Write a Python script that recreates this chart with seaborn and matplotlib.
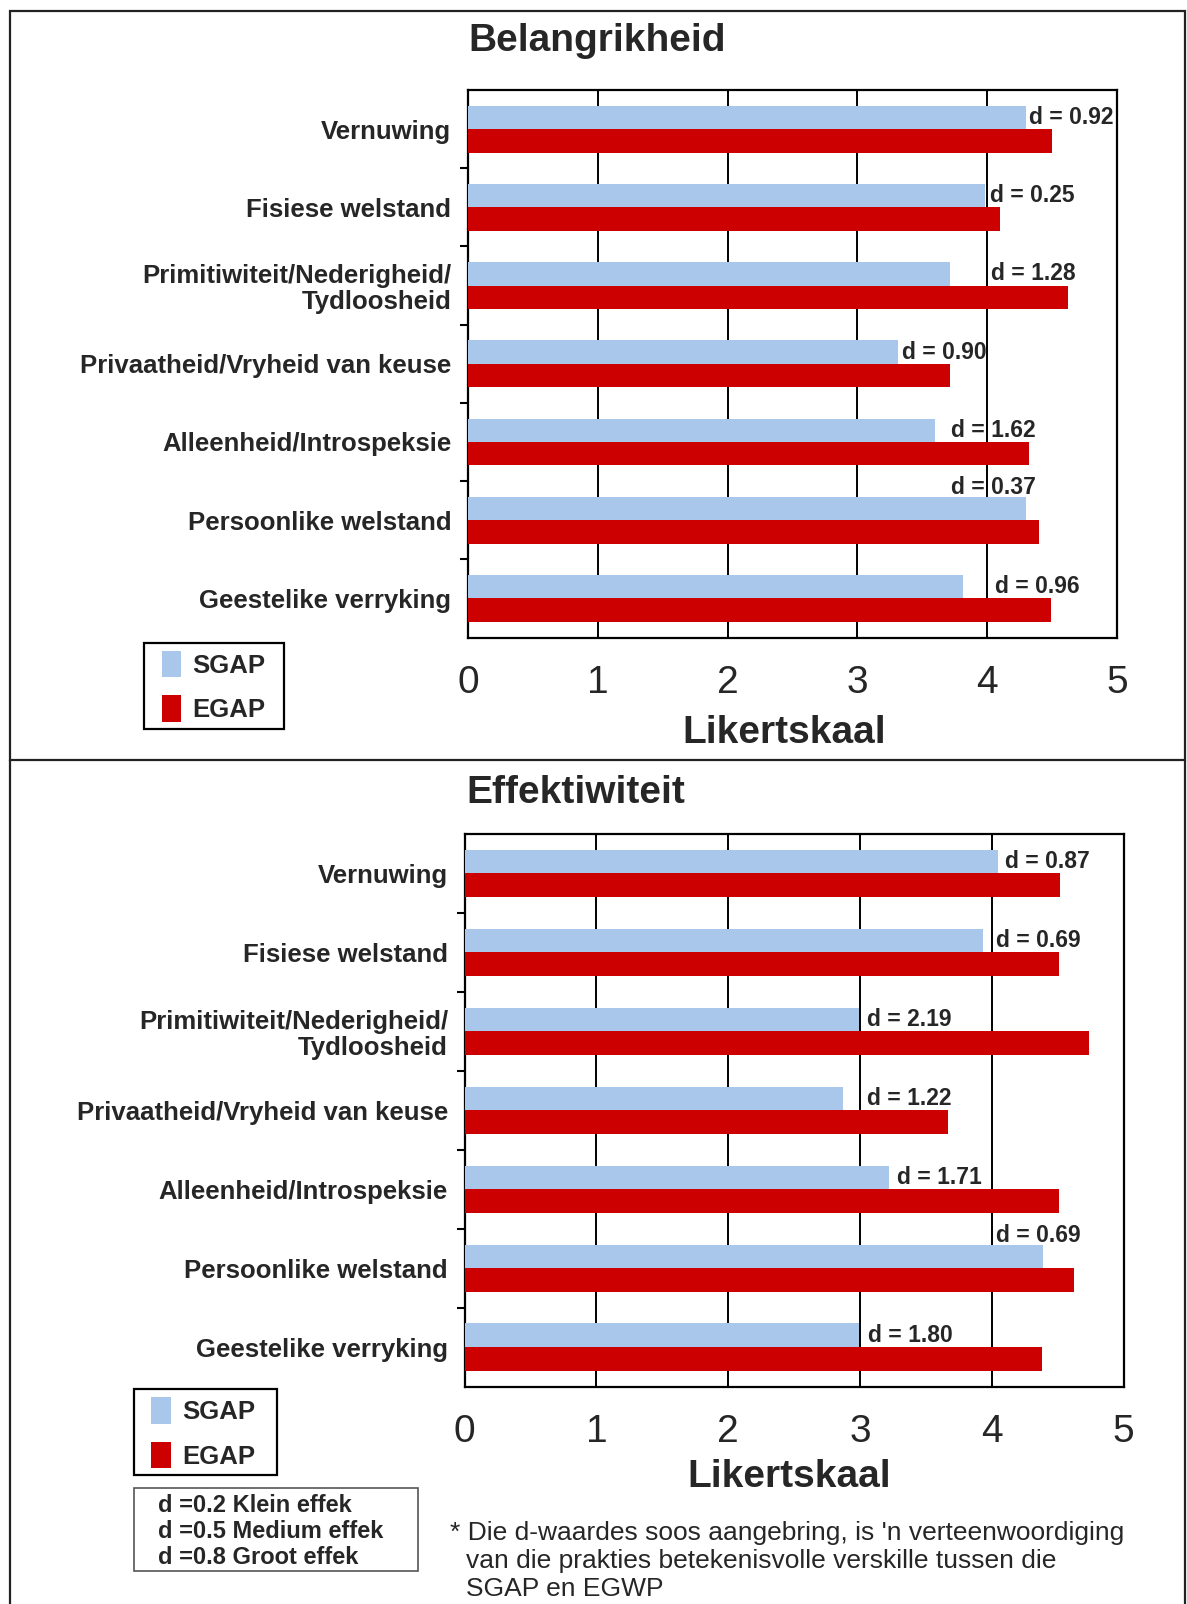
import matplotlib
matplotlib.use("Agg")
import matplotlib.pyplot as plt
import seaborn as sns
import pandas as pd
from matplotlib.patches import Rectangle
from matplotlib.lines import Line2D

# ---------------- data ----------------
categories = ["Vernuwing", "Fisiese welstand",
              "Primitiwiteit/Nederigheid/\nTydloosheid",
              "Privaatheid/Vryheid van keuse", "Alleenheid/Introspeksie",
              "Persoonlike welstand", "Geestelike verryking"]
groups = ["SGAP", "EGAP"]

bel_sgap = [4.30, 3.98, 3.71, 3.31, 3.60, 4.30, 3.81]
bel_egap = [4.50, 4.10, 4.62, 3.71, 4.32, 4.40, 4.49]
bel_d = ["0.92", "0.25", "1.28", "0.90", "1.62", "0.37", "0.96"]

eff_sgap = [4.05, 3.93, 2.99, 2.87, 3.22, 4.39, 2.99]
eff_egap = [4.52, 4.51, 4.74, 3.67, 4.51, 4.62, 4.38]
eff_d = ["0.87", "0.69", "2.19", "1.22", "1.71", "0.69", "1.80"]

x_ticks = [0, 1, 2, 3, 4, 5]
titles = ["Belangrikheid", "Effektiwiteit"]
x_label = "Likertskaal"
effect_notes = ["d =0.2 Klein effek", "d =0.5 Medium effek", "d =0.8 Groot effek"]
footnote = ["* Die d-waardes soos aangebring, is 'n verteenwoordiging",
            "van die prakties betekenisvolle verskille tussen die",
            "SGAP en EGWP"]

# ---------------- layout (label placement) ----------------
bel_lab_x = [4.32, 4.02, 4.03, 3.34, 3.72, 3.72, 4.06]
bel_lab_dy = [-0.15, -0.15, -0.15, -0.15, -0.15, -0.42, -0.15]
eff_lab_x = [4.10, 4.03, 3.05, 3.05, 3.28, 4.03, 3.06]
eff_lab_dy = [-0.15, -0.15, -0.15, -0.15, -0.15, -0.42, -0.15]

BLUE = "#a9c7ea"
RED = "#cc0000"

sns.set_style("white")
plt.rcParams["font.family"] = ["Liberation Sans", "DejaVu Sans"]

W, H = 1187, 1604
fig = plt.figure(figsize=(W / 100, H / 100), dpi=100)


def fx(px):
    return px / W


def fy(py):
    return 1 - py / H


def panel(rect, sgap, egap, dvals, lab_x, lab_dy):
    ax = fig.add_axes(rect)
    df = pd.DataFrame({
        "Kategorie": categories * 2,
        "Waarde": sgap + egap,
        "Groep": [groups[0]] * len(categories) + [groups[1]] * len(categories),
    })
    sns.barplot(data=df, y="Kategorie", x="Waarde", hue="Groep", orient="h",
                hue_order=groups, palette={groups[0]: BLUE, groups[1]: RED},
                width=0.6, saturation=1, ax=ax, errorbar=None, zorder=3,
                linewidth=0)
    ax.set_xlim(0, 5)
    ax.set_ylim(len(categories) - 0.5, -0.5)
    ax.set_xticks(x_ticks)
    ax.set_xticklabels([str(t) for t in x_ticks], fontsize=28)
    ax.set_xticks(x_ticks[1:-1], minor=True)
    ax.tick_params(axis="x", which="major", length=0, pad=20)
    ax.tick_params(axis="x", which="minor", length=17, width=1.5,
                   direction="out", color="black", bottom=True)
    ax.set_yticks(range(len(categories)))
    ax.set_yticklabels(categories, fontsize=18.5, fontweight="bold",
                       linespacing=1.12)
    ax.set_yticks([i + 0.5 for i in range(len(categories) - 1)], minor=True)
    ax.tick_params(axis="y", which="major", length=0, pad=12)
    ax.tick_params(axis="y", which="minor", length=6, width=1.5,
                   direction="out", color="black", left=True)
    ax.set_xlabel("")
    ax.set_ylabel("")
    ax.set_axisbelow(True)
    ax.xaxis.grid(True, which="major", color="black", linewidth=1.4)
    ax.yaxis.grid(False)
    for s in ax.spines.values():
        s.set_visible(True)
        s.set_color("black")
        s.set_linewidth(1.6)
    for i, d in enumerate(dvals):
        ax.text(lab_x[i], i + lab_dy[i], f"d = {d}", fontsize=16.5,
                fontweight="bold", ha="left", va="center", zorder=5)
    handles, labels = ax.get_legend_handles_labels()
    ax.get_legend().remove()
    return ax, handles, labels


ax1, h1, l1 = panel([fx(468), fy(637.5), fx(1117) - fx(468), (637.5 - 90) / H],
                    bel_sgap, bel_egap, bel_d, bel_lab_x, bel_lab_dy)
ax2, h2, l2 = panel([fx(464.6), fy(1386.6), fx(1123.6) - fx(464.6), (1386.6 - 834) / H],
                    eff_sgap, eff_egap, eff_d, eff_lab_x, eff_lab_dy)

# legends: frame box + frameless legend inside
for ax, hs, ls, box, anchor in [
        (ax1, h1, l1, (144.3, 642.6, 283.5, 728.6), (161.5, 651.0)),
        (ax2, h2, l2, (134.0, 1388.6, 277.3, 1474.6), (151.5, 1397.5))]:
    x0, y0, x1, y1 = box
    fig.add_artist(Rectangle((fx(x0), fy(y1)), fx(x1) - fx(x0), (y1 - y0) / H,
                             transform=fig.transFigure, fill=False,
                             edgecolor="black", linewidth=1.6))
    leg = ax.legend(hs, ls, loc="upper left",
                    bbox_to_anchor=(fx(anchor[0]), fy(anchor[1])),
                    bbox_transform=fig.transFigure, borderaxespad=0,
                    frameon=False, handlelength=0.76, handleheight=1.2,
                    handletextpad=0.45, labelspacing=0.68, borderpad=0,
                    prop={"weight": "bold", "size": 18.5})

# titles and axis labels
fig.text(fx(597), fy(41), titles[0], fontsize=28, fontweight="bold",
         ha="center", va="center")
fig.text(fx(576), fy(793), titles[1], fontsize=28, fontweight="bold",
         ha="center", va="center")
fig.text(fx(784), fy(733), x_label, fontsize=28, fontweight="bold",
         ha="center", va="center")
fig.text(fx(789), fy(1477), x_label, fontsize=28, fontweight="bold",
         ha="center", va="center")

# effect-size box
fig.add_artist(Rectangle((fx(134), fy(1571)), fx(418) - fx(134), (1571 - 1488) / H,
                         transform=fig.transFigure, fill=False,
                         edgecolor="#555555", linewidth=1.2))
for i, note in enumerate(effect_notes):
    fig.text(fx(158), fy(1505 + 26 * i), note, fontsize=17, fontweight="bold",
             ha="left", va="center")

# footnote
fig.text(fx(450), fy(1533), footnote[0], fontsize=19, ha="left", va="center")
fig.text(fx(466), fy(1561), footnote[1], fontsize=19, ha="left", va="center")
fig.text(fx(466), fy(1589), footnote[2], fontsize=19, ha="left", va="center")

# panel frames
fig.add_artist(Rectangle((fx(10), fy(760)), fx(1185) - fx(10), (760 - 11) / H,
                         transform=fig.transFigure, fill=False,
                         edgecolor="#222222", linewidth=1.6))
fig.add_artist(Line2D([fx(10), fx(10)], [fy(760), 0], transform=fig.transFigure,
                      color="#222222", linewidth=1.6))
fig.add_artist(Line2D([fx(1185), fx(1185)], [fy(760), 0], transform=fig.transFigure,
                      color="#222222", linewidth=1.6))

fig.savefig("out.png", dpi=100)
